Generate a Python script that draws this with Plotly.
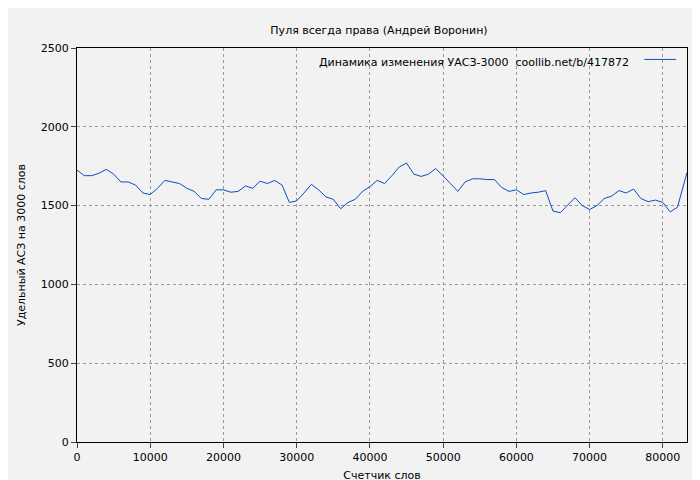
import plotly.graph_objects as go

words = list(range(0, 83000, 1000)) + [83300]
values = [1725,1690,1690,1705,1730,1700,1650,1650,1630,1580,1570,1610,1660,1650,1640,1610,1590,1545,1540,1600,
          1600,1585,1590,1625,1610,1655,1640,1660,1630,1520,1530,1580,1635,1600,1555,1540,1480,1520,1540,1590,
          1620,1660,1640,1690,1745,1770,1700,1685,1700,1735,1690,1640,1590,1650,1670,1670,1665,1665,1615,1590,
          1600,1570,1580,1585,1595,1465,1455,1500,1550,1500,1475,1500,1545,1560,1595,1580,1605,1545,1525,1535,
          1520,1460,1490,1710]
legend_name = "Динамика изменения УАСЗ-3000  coollib.net/b/417872"
line_color = "#0a4fbf"

fig = go.Figure(go.Scatter(x=words, y=values, mode="lines", name=legend_name,
                           line=dict(color=line_color, width=1), showlegend=False))
font = dict(family="DejaVu Sans", size=11, color="#000")
ax = dict(showline=True, linecolor="#000", linewidth=1, mirror=True, ticks="outside", ticklen=5,
          showgrid=True, gridcolor="#999", griddash="dot", gridwidth=1, zeroline=False, tickfont=font,
          automargin=False, tickformat="d")
fig.update_layout(
    width=700, height=480, paper_bgcolor="#f2f2f2", plot_bgcolor="#f2f2f2", font=font,
    title=dict(text="Пуля всегда права (Андрей Воронин)", x=0.53, xanchor="center", y=0.962, font=font),
    margin=dict(l=69, r=21, t=40, b=46),
    xaxis=dict(ax, range=[0, 83300], dtick=10000, title=dict(text="Счетчик слов", font=font, standoff=8)),
    yaxis=dict(ax, range=[0, 2500], dtick=500, title=dict(text="Удельный АСЗ на 3000 слов", font=font, standoff=12)),
)
fig.add_annotation(text=legend_name, xref="paper", yref="paper", x=0.908, y=0.985,
                   xanchor="right", yanchor="top", showarrow=False, font=font)
fig.add_shape(type="line", xref="paper", yref="paper", x0=0.93, x1=0.982, y0=0.971, y1=0.971,
              line=dict(color=line_color, width=1))
fig.write_html("out.html")
